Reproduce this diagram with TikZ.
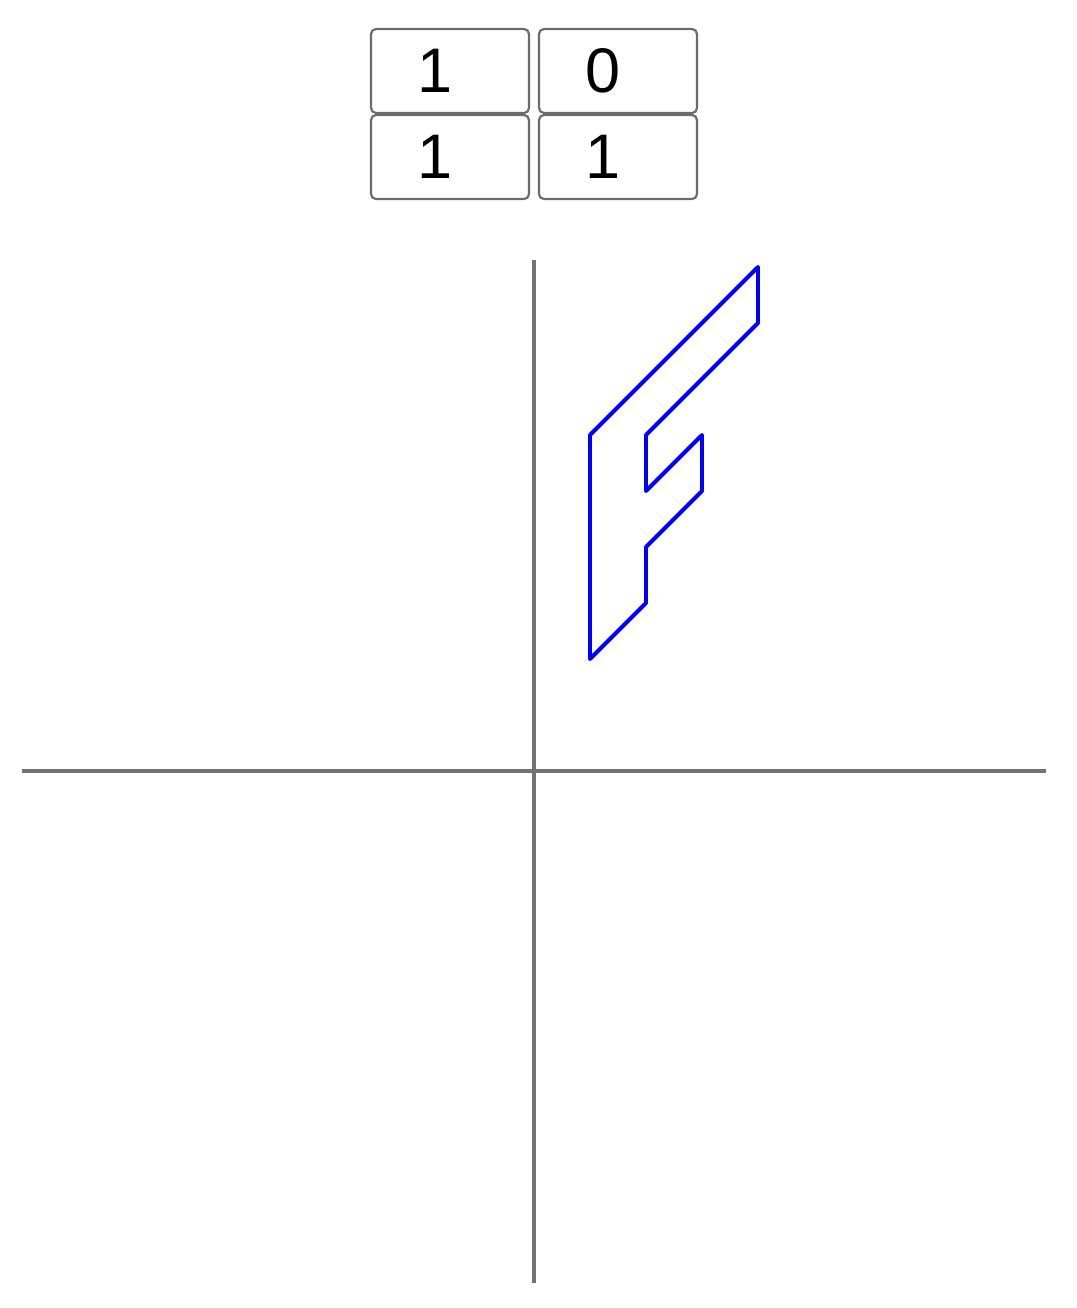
\documentclass[tikz,border=0pt]{standalone}
\usepackage{fontspec}
\setmainfont{Liberation Sans}
\begin{document}
\begin{tikzpicture}[>=stealth,
		cell/.style={draw=gray!85!black,line width=1.1pt,rounded corners=2.5pt,minimum width=2.82cm,minimum height=1.5cm,inner sep=0pt},
		entry/.style={font=\fontsize{32}{38}\selectfont,inner sep=0pt},
		axis/.style={gray!90!black,line width=1.8pt}]
		\useasboundingbox (-9.536,-9.589) rectangle (9.679,13.768);
		\node[cell] (c11) at (-1.5,12.5) {};
		\node[cell] (c12) at (1.5,12.5) {};
		\node[cell] (c21) at (-1.5,10.964) {};
		\node[cell] (c22) at (1.5,10.964) {};
		\node[entry] (e11) at ([xshift=-0.27cm]c11.center) {1};
		\node[entry] (e12) at ([xshift=-0.27cm]c12.center) {0};
		\node[entry] (e21) at ([xshift=-0.27cm]c21.center) {1};
		\node[entry] (e22) at ([xshift=-0.27cm]c22.center) {1};
		\draw[axis] (-9.143,0)--(9.143,0);
		\draw[axis] (0,-9.143)--(0,9.125);
		\draw[blue,line width=2pt,line join=round,cm={1,1,0,1,(0,0)}]
		(1,5)--(4,5)--(4,4)--(2,4)--(2,3)--(3,3)--(3,2)--(2,2)--(2,1)--(1,1)--cycle;
	\end{tikzpicture}
\end{document}
